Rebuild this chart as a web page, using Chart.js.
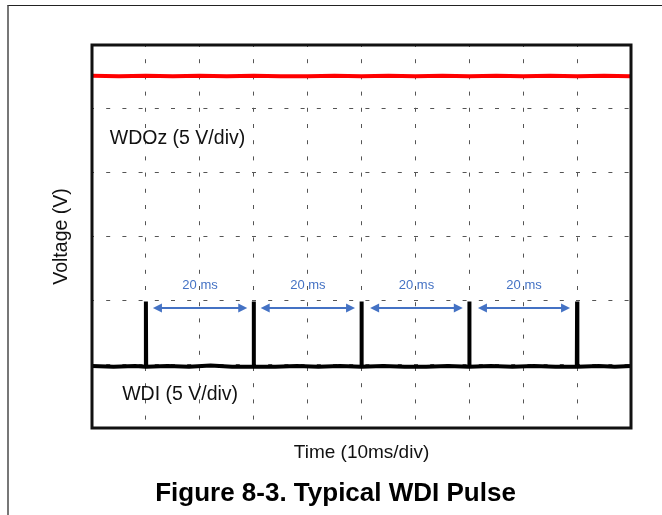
<!DOCTYPE html>
<html>
<head>
<meta charset="utf-8">
<script src="https://cdn.jsdelivr.net/npm/chart.js@4"></script>
<style>
  body { margin: 0; background: #fff; }
  #wrap { position: relative; width: 662px; height: 515px; overflow: hidden; }
  #frame {
    position: absolute; left: 7px; top: 5px; width: 700px; height: 600px;
    border-left: 2px solid #777; border-top: 1.5px solid #222;
  }
  canvas { position: absolute; left: 0; top: 0; }
</style>
</head>
<body>
<div id="wrap">
  <div id="frame"></div>
  <canvas id="myChart" width="662" height="515"></canvas>
</div>
<script>
// time in ms, voltage in divisions (5 V/div), 0..6 div tall scope screen
const wdozTime = [0, 5, 10, 15, 20, 25, 30, 35, 40, 45, 50, 55, 60, 65, 70, 75, 80, 85, 90, 95, 100];
const wdozVolts = [5.52, 5.51, 5.52, 5.51, 5.52, 5.51, 5.52, 5.51, 5.51, 5.52, 5.51, 5.52, 5.51, 5.52, 5.51, 5.52, 5.51, 5.52, 5.51, 5.52, 5.51];

const wdiTime = [0, 4, 8, 9.95, 10, 10.05, 14, 18, 22, 26, 29.95, 30, 30.05, 34, 38, 42, 46, 49.95, 50, 50.05,
  54, 58, 62, 66, 69.95, 70, 70.05, 74, 78, 82, 86, 89.95, 90, 90.05, 94, 97, 100];
const wdiVolts = [0.97, 0.96, 0.97, 0.96, 1.98, 0.96, 0.97, 0.96, 0.98, 0.96, 0.96, 1.98, 0.96, 0.96, 0.97, 0.96, 0.97, 0.96, 1.98, 0.96,
  0.97, 0.96, 0.96, 0.97, 0.96, 1.98, 0.96, 0.97, 0.96, 0.97, 0.96, 0.96, 1.98, 0.96, 0.97, 0.96, 0.97];

// 20 ms spacing markers between pulses
const spanStart = [11.3, 31.3, 51.6, 71.6];
const spanEnd = [28.8, 48.8, 68.8, 88.7];
const spanText = ["20 ms", "20 ms", "20 ms", "20 ms"];

const traceLabels = ["WDOz (5 V/div)", "WDI (5 V/div)"];
const traceLabelX = [3.3, 5.6];
const traceLabelY = [4.53, 0.52];

const toPoints = (xs, ys) => xs.map((x, i) => ({ x: x, y: ys[i] }));

const scopeDecor = {
  id: "scopeDecor",
  afterDatasetsDraw(chart) {
    const { ctx, chartArea, scales } = chart;
    const x = scales.x, y = scales.y;
    ctx.save();

    // trace labels
    ctx.fillStyle = "#111";
    ctx.font = "19.5px 'Liberation Sans', Arial, sans-serif";
    ctx.textBaseline = "middle";
    ctx.textAlign = "left";
    traceLabels.forEach((t, i) => {
      ctx.fillText(t, x.getPixelForValue(traceLabelX[i]), y.getPixelForValue(traceLabelY[i]));
    });

    // 20 ms arrows
    const blue = "#4472C4";
    const ay = y.getPixelForValue(1.88);
    ctx.strokeStyle = blue;
    ctx.fillStyle = blue;
    ctx.lineWidth = 2;
    spanStart.forEach((s, i) => {
      const x1 = x.getPixelForValue(s);
      const x2 = x.getPixelForValue(spanEnd[i]);
      ctx.beginPath();
      ctx.moveTo(x1 + 6, ay);
      ctx.lineTo(x2 - 6, ay);
      ctx.stroke();
      ctx.beginPath();
      ctx.moveTo(x1, ay);
      ctx.lineTo(x1 + 9, ay - 4.5);
      ctx.lineTo(x1 + 9, ay + 4.5);
      ctx.closePath();
      ctx.fill();
      ctx.beginPath();
      ctx.moveTo(x2, ay);
      ctx.lineTo(x2 - 9, ay - 4.5);
      ctx.lineTo(x2 - 9, ay + 4.5);
      ctx.closePath();
      ctx.fill();
      ctx.font = "13px 'Liberation Sans', Arial, sans-serif";
      ctx.textAlign = "center";
      ctx.fillText(spanText[i], (x1 + x2) / 2, y.getPixelForValue(2.24));
    });

    // screen frame
    ctx.strokeStyle = "#111";
    ctx.lineWidth = 3;
    ctx.strokeRect(chartArea.left, chartArea.top, chartArea.right - chartArea.left, chartArea.bottom - chartArea.top);
    ctx.restore();
  },
};

const ctx = document.getElementById("myChart");

new Chart(ctx, {
  type: "line",
  data: {
    datasets: [
      {
        label: "WDOz",
        data: toPoints(wdozTime, wdozVolts),
        borderColor: "#ff0000",
        borderWidth: 4,
        pointRadius: 0,
        tension: 0,
      },
      {
        label: "WDI",
        data: toPoints(wdiTime, wdiVolts),
        borderColor: "#000",
        borderWidth: 4,
        borderJoinStyle: "bevel",
        pointRadius: 0,
        tension: 0,
      },
    ],
  },
  plugins: [scopeDecor],
  options: {
    responsive: false,
    animation: false,
    layout: {
      padding: { top: 45, left: 40, right: 31, bottom: 0 },
    },
    scales: {
      x: {
        type: "linear",
        min: 0,
        max: 100,
        ticks: { display: false, stepSize: 10 },
        grid: { color: "#555", lineWidth: 1, drawTicks: false },
        border: { display: false, dash: [4, 12.2], dashOffset: 2 },
        title: {
          display: true,
          text: "Time (10ms/div)",
          color: "#111",
          font: { family: "'Liberation Sans', Arial, sans-serif", size: 19 },
          padding: { top: 13.1, bottom: 4 },
        },
      },
      y: {
        min: 0,
        max: 6,
        ticks: { display: false, stepSize: 1 },
        grid: { color: "#555", lineWidth: 1, drawTicks: false },
        border: { display: false, dash: [4, 12.2], dashOffset: 2 },
        title: {
          display: true,
          text: "Voltage (V)",
          color: "#111",
          font: { family: "'Liberation Sans', Arial, sans-serif", size: 19.5 },
          padding: { top: 10.3, bottom: 18.3 },
        },
      },
    },
    plugins: {
      legend: { display: false },
      tooltip: { enabled: false },
      title: {
        display: true,
        position: "bottom",
        text: "Figure 8-3. Typical WDI Pulse",
        color: "#000",
        font: { family: "'Liberation Sans', Arial, sans-serif", size: 26, weight: "bold" },
        padding: { top: 9.9, bottom: 6 },
      },
    },
  },
});
</script>
</body>
</html>
